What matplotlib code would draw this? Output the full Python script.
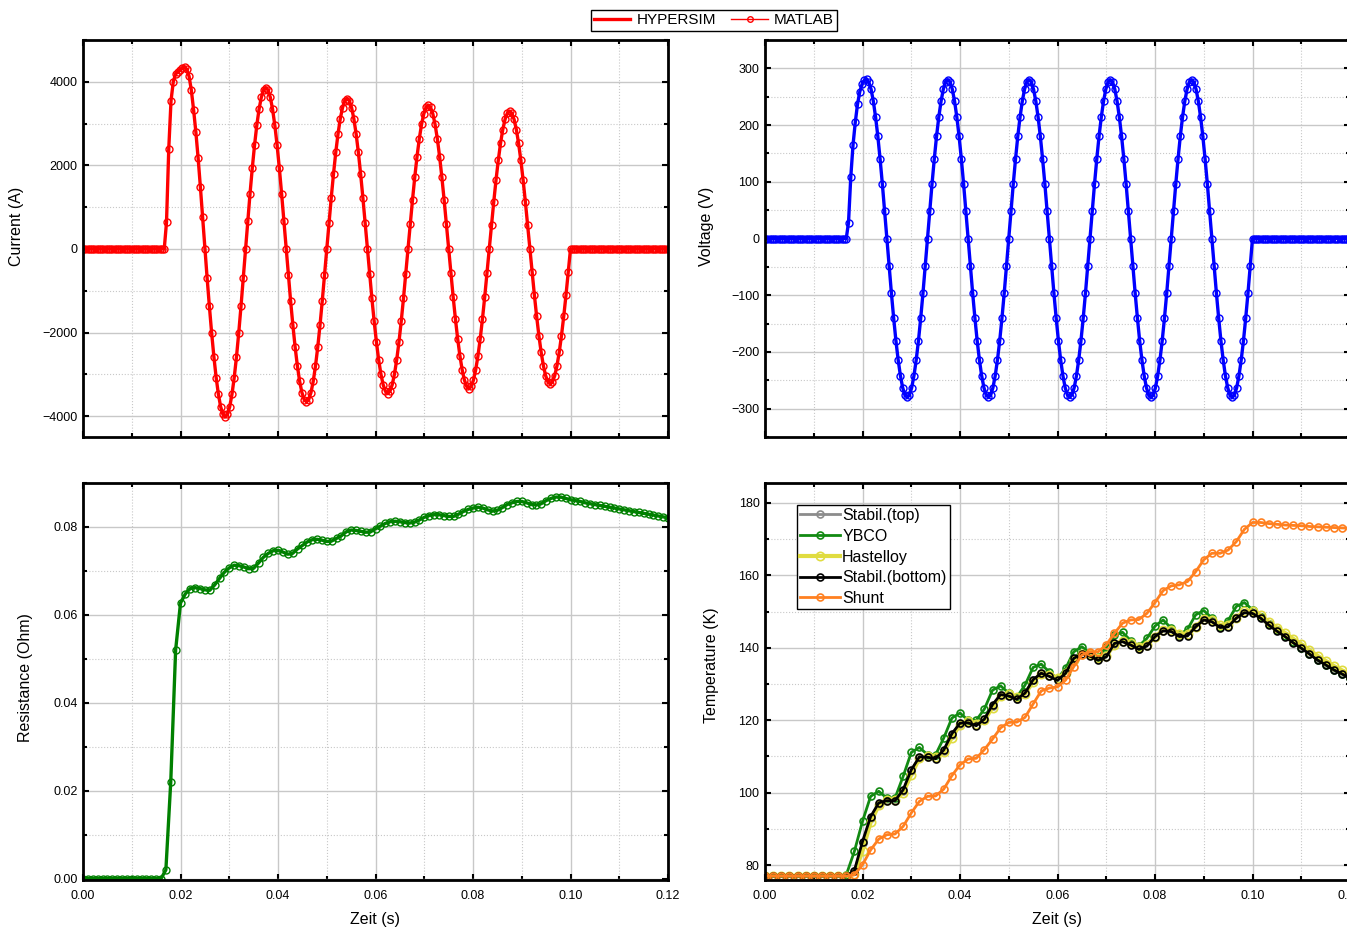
import numpy as np
import matplotlib.pyplot as plt
from matplotlib.ticker import MultipleLocator, FormatStrFormatter
from matplotlib.lines import Line2D

plt.rcParams['font.family'] = ['Liberation Sans', 'DejaVu Sans']

# waveform samples, 36 per 60 Hz cycle, fault starts at 1/60 s
wave_t0 = 1 / 60
wave_dt = 1 / 2160
n_pre = 36    # flat samples before the fault
n_post = 43   # flat samples after 0.1 s

current_fault = [
    0, 640, 2400, 3550, 4000, 4180, 4240, 4290, 4330, 4360, 4300, 4130, 3800, 3330, 2800, 2180, 1490, 760, 0,
    -700, -1375, -2010, -2584, -3079, -3481, -3778, -3959, -4020, -3959, -3778, -3481, -3079, -2584, -2010, -1375, -700, 0,
    670, 1320, 1930, 2481, 2957, 3343, 3627, 3801, 3860, 3801, 3627, 3343, 2957, 2481, 1930, 1320, 670, 0,
    -635, -1252, -1830, -2353, -2804, -3170, -3439, -3604, -3660, -3604, -3439, -3170, -2804, -2353, -1830, -1252, -635, 0,
    625, 1231, 1800, 2314, 2758, 3118, 3383, 3545, 3600, 3545, 3383, 3118, 2758, 2314, 1800, 1231, 625, 0,
    -601, -1183, -1730, -2224, -2650, -2996, -3251, -3407, -3460, -3407, -3251, -2996, -2650, -2224, -1730, -1183, -601, 0,
    597, 1176, 1720, 2211, 2635, 2979, 3233, 3388, 3440, 3388, 3233, 2979, 2635, 2211, 1720, 1176, 597, 0,
    -580, -1142, -1670, -2147, -2558, -2892, -3139, -3289, -3340, -3289, -3139, -2892, -2558, -2147, -1670, -1142, -580, 0,
    573, 1129, 1650, 2121, 2528, 2858, 3101, 3250, 3300, 3250, 3101, 2858, 2528, 2121, 1650, 1129, 573, 0,
    -561, -1105, -1615, -2076, -2474, -2797, -3035, -3181, -3230, -3181, -3035, -2797, -2474, -2076, -1615, -1105, -561, 0,
]

voltage_fault = [
    0, 28, 108, 165, 205, 237, 259, 272, 279, 281, 276, 263, 242, 214, 180, 140, 96, 49,
    0, -49, -96, -140, -180, -214, -242, -263, -276, -280, -276, -263, -242, -214, -180, -140, -96, -49,
    0, 49, 96, 140, 180, 214, 242, 263, 276, 280, 276, 263, 242, 214, 180, 140, 96, 49,
    0, -49, -96, -140, -180, -214, -242, -263, -276, -280, -276, -263, -242, -214, -180, -140, -96, -49,
    0, 49, 96, 140, 180, 214, 242, 263, 276, 280, 276, 263, 242, 214, 180, 140, 96, 49,
    0, -49, -96, -140, -180, -214, -242, -263, -276, -280, -276, -263, -242, -214, -180, -140, -96, -49,
    0, 49, 96, 140, 180, 214, 242, 263, 276, 280, 276, 263, 242, 214, 180, 140, 96, 49,
    0, -49, -96, -140, -180, -214, -242, -263, -276, -280, -276, -263, -242, -214, -180, -140, -96, -49,
    0, 49, 96, 140, 180, 214, 242, 263, 276, 280, 276, 263, 242, 214, 180, 140, 96, 49,
    0, -49, -96, -140, -180, -214, -242, -263, -276, -280, -276, -263, -242, -214, -180, -140, -96, -49,
    0,
]

# resistance, one sample per ms; zero until 0.016 s
r_dt = 0.001
resistance_fault = [
    0.0020, 0.0220, 0.0520, 0.0627, 0.0648, 0.0660, 0.0662, 0.0660, 0.0657, 0.0656,
    0.0668, 0.0683, 0.0697, 0.0707, 0.0713, 0.0712, 0.0709, 0.0705, 0.0706, 0.0718,
    0.0731, 0.0740, 0.0746, 0.0747, 0.0743, 0.0738, 0.0740, 0.0750, 0.0758, 0.0766,
    0.0771, 0.0772, 0.0770, 0.0767, 0.0768, 0.0774, 0.0780, 0.0789, 0.0793, 0.0792,
    0.0790, 0.0788, 0.0789, 0.0796, 0.0802, 0.0808, 0.0812, 0.0813, 0.0812, 0.0810,
    0.0809, 0.0811, 0.0816, 0.0822, 0.0826, 0.0828, 0.0828, 0.0826, 0.0824, 0.0824,
    0.0829, 0.0835, 0.0840, 0.0843, 0.0845, 0.0843, 0.0839, 0.0836, 0.0838, 0.0844,
    0.0851, 0.0855, 0.0858, 0.0858, 0.0855, 0.0851, 0.0850, 0.0853, 0.0860, 0.0865,
    0.0868, 0.0868, 0.0865, 0.0862, 0.0860, 0.0858, 0.0855, 0.0853, 0.0851, 0.0849,
    0.0847, 0.0845, 0.0843, 0.0841, 0.0839, 0.0837, 0.0835, 0.0833, 0.0831, 0.0829,
    0.0827, 0.0825, 0.0823, 0.0821,
]
resistance = [0.0] * 17 + resistance_fault

# temperatures, one sample every 1/600 s; 77 K for the first 10 samples
temp_dt = 1 / 600
temp_start = [77.0] * 10
temp_stabil_top = [
    77.0, 78.3, 86.0, 93.0, 97.0, 97.9, 97.9, 100.5, 106.0, 109.7,
    109.9, 109.5, 111.6, 116.0, 119.0, 119.4, 118.7, 120.2, 124.0, 126.9,
    126.8, 126.0, 127.4, 131.0, 132.9, 132.3, 131.2, 132.9, 136.8, 138.2,
    137.9, 136.8, 137.5, 141.0, 141.7, 141.0, 139.8, 140.5, 142.9, 144.6,
    144.6, 143.3, 143.4, 145.7, 147.6, 147.3, 145.8, 145.9, 148.1, 149.7,
    149.6, 148.4, 146.5, 144.8, 143.3, 141.6, 140.1, 138.5, 136.8, 135.5,
    134.1, 133.0, 131.8,
]
temp_ybco = [
    77.3, 83.8, 92.1, 99.0, 100.4, 98.5, 98.5, 104.5, 111.1, 112.5,
    110.5, 110.5, 115.1, 120.6, 122.0, 120.0, 120.0, 123.1, 128.3, 129.5,
    127.5, 126.4, 129.7, 134.6, 135.5, 133.3, 131.5, 134.3, 138.9, 140.3,
    138.5, 137.4, 140.1, 143.5, 144.3, 142.0, 140.5, 142.6, 146.0, 147.7,
    145.4, 143.6, 145.1, 149.1, 150.3, 148.2, 145.8, 147.5, 151.4, 152.5,
    150.5, 148.5, 146.5, 144.8, 143.2, 141.5, 140.0, 138.4, 136.7, 135.3,
    133.9, 132.8, 131.6,
]
temp_hastelloy = [
    77.0, 77.6, 84.0, 91.8, 96.5, 98.0, 98.1, 100.0, 105.0, 109.5,
    110.2, 109.8, 111.2, 115.2, 118.8, 119.8, 119.0, 120.0, 123.5, 126.8,
    127.2, 126.3, 127.3, 130.6, 132.9, 132.6, 131.6, 133.0, 136.6, 138.4,
    138.2, 137.2, 137.8, 140.9, 142.0, 141.4, 140.3, 140.9, 143.0, 145.0,
    145.0, 143.8, 143.8, 145.7, 148.0, 147.8, 146.3, 146.3, 148.3, 150.1,
    150.2, 149.0, 147.2, 145.6, 144.1, 142.5, 141.0, 139.4, 137.8, 136.4,
    135.0, 133.8, 132.6,
]
temp_stabil_bottom = [
    77.0, 78.5, 86.5, 93.4, 97.2, 97.8, 97.8, 100.8, 106.3, 109.9,
    109.8, 109.4, 111.8, 116.3, 119.2, 119.3, 118.5, 120.3, 124.3, 127.1,
    126.7, 125.8, 127.5, 131.2, 133.0, 132.1, 131.0, 133.0, 137.1, 138.3,
    137.7, 136.6, 137.5, 141.2, 141.7, 140.8, 139.6, 140.5, 143.1, 144.7,
    144.5, 143.1, 143.3, 145.8, 147.7, 147.2, 145.6, 145.8, 148.2, 149.7,
    149.5, 148.2, 146.3, 144.6, 143.1, 141.4, 139.9, 138.3, 136.6, 135.3,
    133.9, 132.8, 131.6,
]
temp_shunt = [
    77.0, 77.3, 80.1, 84.2, 87.2, 88.4, 88.6, 90.7, 94.4, 97.6,
    99.0, 99.1, 101.0, 104.7, 107.7, 109.3, 109.5, 111.9, 114.8, 117.9,
    119.4, 119.5, 120.8, 124.5, 128.1, 128.9, 129.2, 131.1, 134.8, 138.0,
    138.9, 138.9, 140.8, 144.0, 146.8, 147.7, 147.8, 149.5, 152.5, 155.8,
    157.1, 157.4, 158.3, 161.0, 164.3, 166.1, 166.1, 167.0, 169.3, 172.7,
    174.6, 174.6, 174.3, 174.1, 173.9, 173.8, 173.7, 173.5, 173.4, 173.3,
    173.2, 173.1, 173.0,
]

temp_names = ['Stabil.(top)', 'YBCO', 'Hastelloy', 'Stabil.(bottom)', 'Shunt']
temp_series = [temp_stabil_top, temp_ybco, temp_hastelloy, temp_stabil_bottom, temp_shunt]
temp_colors = ['#8c8c8c', '#128a12', '#e0dc40', '#000000', '#ff8020']

wave_time = wave_t0 + wave_dt * np.arange(-n_pre, len(current_fault) + n_post)
current = np.array([0.0] * n_pre + current_fault + [0.0] * n_post)
voltage = np.array([0.0] * n_pre + voltage_fault + [0.0] * n_post)
r_time = np.arange(len(resistance)) * r_dt

W, H = 1347, 930
fig = plt.figure(figsize=(W / 100, H / 100), dpi=100)

def make_axes(x0, y0):
    # pixel box -> figure fraction, all panels 585x397 px
    return fig.add_axes([x0 / W, 1 - (y0 + 397) / H, 585 / W, 397 / H])

ax_i = make_axes(83, 40)
ax_v = make_axes(765, 40)
ax_r = make_axes(83, 483)
ax_t = make_axes(765, 483)

mk = dict(marker='o', mfc='none', ms=5, mew=1.0)

# HYPERSIM line + MATLAB markers
ax_i.plot(wave_time, current, color='#ff0000', lw=2.4)
ax_i.plot(wave_time, current, color='#ff0000', lw=1, mec='#ff0000', **mk)
ax_v.plot(wave_time, voltage, color='#0000ff', lw=2.4)
ax_v.plot(wave_time, voltage, color='#0000ff', lw=1, mec='#0000ff', **mk)
ax_r.plot(r_time, resistance, color='#008000', lw=2.4)
ax_r.plot(r_time, resistance, color='#008000', lw=1, mec='#008000', **mk)

temp_time = np.arange(len(temp_start) + len(temp_shunt)) * temp_dt
for name, vals, col in zip(temp_names, temp_series, temp_colors):
    lw = 3.0 if name == 'Hastelloy' else 2.0
    ms = 6.0 if name == 'Hastelloy' else 5.0
    ax_t.plot(temp_time, temp_start + vals, color=col, lw=lw, marker='o',
              mfc='none', mec=col, ms=ms, mew=1.2, label=name)

ax_i.set_ylim(-4500, 5000)
ax_i.yaxis.set_major_locator(MultipleLocator(2000))
ax_i.yaxis.set_minor_locator(MultipleLocator(1000))
ax_v.set_ylim(-350, 350)
ax_v.yaxis.set_major_locator(MultipleLocator(100))
ax_v.yaxis.set_minor_locator(MultipleLocator(50))
ax_r.set_ylim(-0.0003, 0.0900)
ax_r.yaxis.set_major_locator(MultipleLocator(0.02))
ax_r.yaxis.set_minor_locator(MultipleLocator(0.01))
ax_r.yaxis.set_major_formatter(FormatStrFormatter('%.2f'))
ax_t.set_ylim(75.9, 185.5)
ax_t.yaxis.set_major_locator(MultipleLocator(20))
ax_t.yaxis.set_minor_locator(MultipleLocator(10))

for ax in [ax_i, ax_v, ax_r, ax_t]:
    ax.set_xlim(0, 0.12)
    ax.xaxis.set_major_locator(MultipleLocator(0.02))
    ax.xaxis.set_minor_locator(MultipleLocator(0.01))
    ax.xaxis.set_major_formatter(FormatStrFormatter('%.2f'))
    ax.set_axisbelow(True)
    ax.grid(which='major', color='#c8c8c8', lw=1.0, ls='-')
    ax.grid(which='minor', color='#c8c8c8', lw=0.8, ls=':')
    ax.tick_params(which='both', direction='in', top=True, right=True, width=1.5, labelsize=9)
    ax.tick_params(which='major', length=4)
    ax.tick_params(which='minor', length=3)
    ax.tick_params(axis='y', pad=4)
    ax.tick_params(axis='x', pad=7)
    for s in ax.spines.values():
        s.set_linewidth(2.0)

ax_i.tick_params(labelbottom=False)
ax_v.tick_params(labelbottom=False)

ax_i.set_ylabel('Current (A)', fontsize=11.5)
ax_v.set_ylabel('Voltage (V)', fontsize=11.5)
ax_r.set_ylabel('Resistance (Ohm)', fontsize=11.5)
ax_t.set_ylabel('Temperature (K)', fontsize=11.5)
ax_i.yaxis.set_label_coords(-0.101, 0.53)
ax_v.yaxis.set_label_coords(-0.087, 0.53)
ax_r.yaxis.set_label_coords(-0.0855, 0.51)
ax_t.yaxis.set_label_coords(-0.0786, 0.54)
ax_r.set_xlabel('Zeit (s)', fontsize=11.5)
ax_t.set_xlabel('Zeit (s)', fontsize=11.5)
ax_r.xaxis.set_label_coords(0.5, -0.081)
ax_t.xaxis.set_label_coords(0.5, -0.081)

leg = ax_t.legend(loc='upper left', bbox_to_anchor=(0.054, 0.945), fontsize=11.5,
                  frameon=True, fancybox=False, edgecolor='black', framealpha=1,
                  handlelength=2.5, handletextpad=0.15, labelspacing=0.36,
                  borderpad=0.2, borderaxespad=0)
leg.get_frame().set_linewidth(1.0)

top_handles = [Line2D([], [], color='#ff0000', lw=2.4),
               Line2D([], [], color='#ff0000', lw=1, marker='o', mfc='none', mec='#ff0000', ms=4)]
fig_leg = fig.legend(top_handles, ['HYPERSIM', 'MATLAB'], loc='center', bbox_to_anchor=(0.53, 0.978),
                     ncol=2, fontsize=11, frameon=True, fancybox=False, edgecolor='black',
                     framealpha=1, handlelength=2.4, handletextpad=0.4, columnspacing=1.0, borderpad=0.2)
fig_leg.get_frame().set_linewidth(1.0)

fig.savefig('out.png', dpi=100)
